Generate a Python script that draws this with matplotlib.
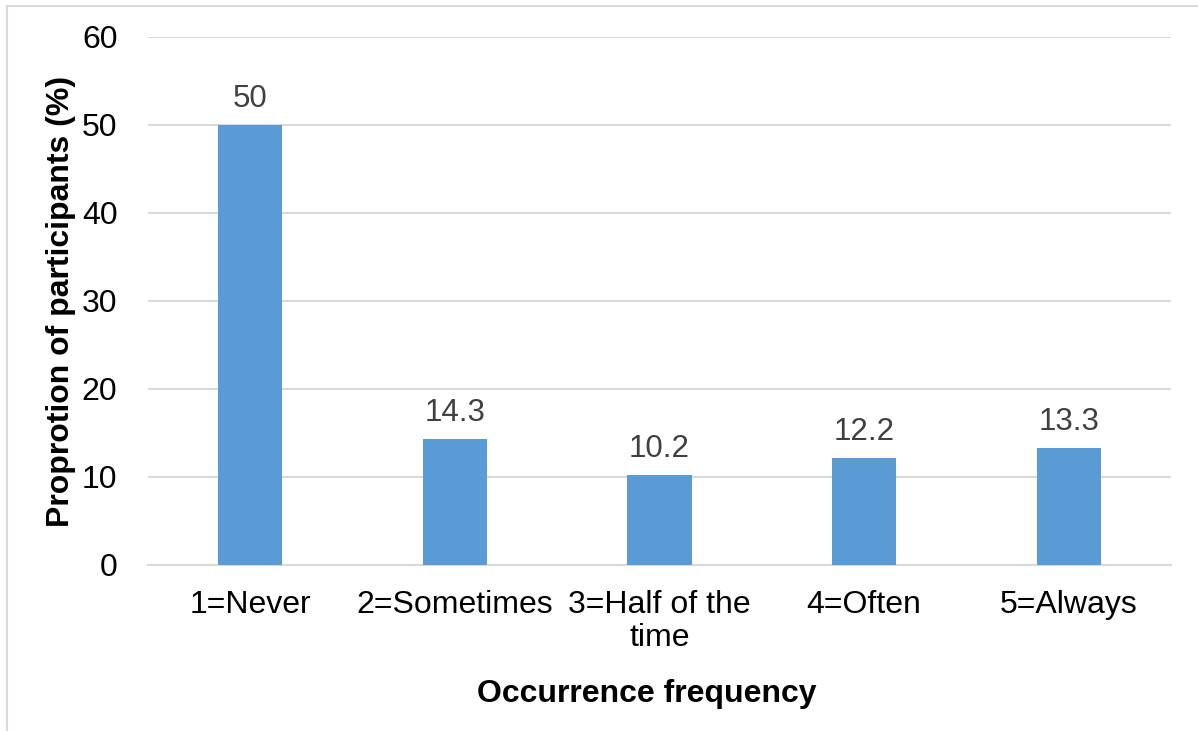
import matplotlib.pyplot as plt
from matplotlib.lines import Line2D

plt.rcParams['font.family'] = ['Liberation Sans', 'DejaVu Sans']

categories = ['1=Never', '2=Sometimes', '3=Half of the\ntime', '4=Often', '5=Always']
proportions = [50, 14.3, 10.2, 12.2, 13.3]
yticks = [0, 10, 20, 30, 40, 50, 60]

fig = plt.figure(figsize=(11.98, 7.31), dpi=100)
ax = fig.add_axes([148 / 1198, 1 - 565 / 731, (1171 - 148) / 1198, (565 - 37) / 731])

x = range(len(categories))
bars = ax.bar(x, proportions, width=0.313, color='#5B9BD5', zorder=3)

for rect, v in zip(bars, proportions):
    ax.annotate(f'{v:g}', (rect.get_x() + rect.get_width() / 2, v),
                xytext=(0, 8), textcoords='offset points',
                ha='center', va='bottom', fontsize=22.5, color='#404040')

ax.set_xlim(-0.5, len(categories) - 0.5)
ax.set_ylim(0, 60)
ax.set_yticks(yticks)
ax.set_xticks(list(x))
ax.set_xticklabels(categories, fontsize=23, linespacing=1.13)
ax.tick_params(axis='y', labelsize=23, length=0, pad=22)
ax.tick_params(axis='x', length=0, pad=18)
ax.grid(axis='y', color='#D9D9D9', linewidth=1.5, zorder=0)
for s in ['top', 'right', 'left']:
    ax.spines[s].set_visible(False)
ax.spines['bottom'].set_color('#D9D9D9')
ax.spines['bottom'].set_linewidth(1.5)

ax.set_ylabel('Proprotion of participants (%)', fontsize=23, fontweight='bold', labelpad=4)
ax.set_xlabel('Occurrence frequency', fontsize=23, fontweight='bold', labelpad=16)
ax.xaxis.set_label_coords(0.488, -0.215)

# thin frame around the chart area
fig.add_artist(Line2D([6.5 / 1198, 1], [1 - 5.5 / 731, 1 - 5.5 / 731], color='#D9D9D9', lw=1.5))
fig.add_artist(Line2D([6.5 / 1198, 6.5 / 1198], [0, 1 - 5.5 / 731], color='#D9D9D9', lw=1.5))

fig.savefig('out.png', dpi=100)
